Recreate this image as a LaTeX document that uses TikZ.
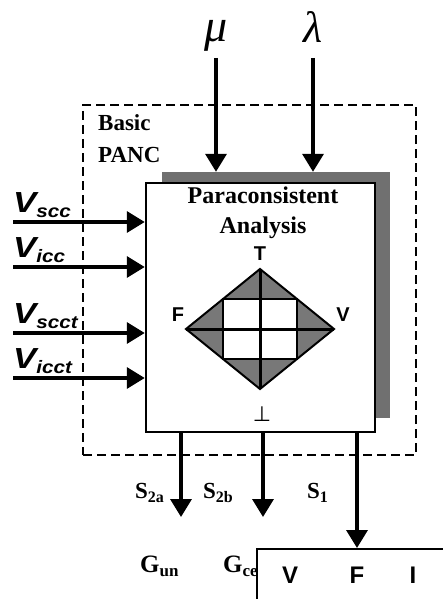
\documentclass[tikz,border=0pt]{standalone}
\usepackage{fontspec}
\setmainfont{Liberation Serif}
\setsansfont{Liberation Sans}
\newfontfamily\dejavu{DejaVu Sans}
\usetikzlibrary{arrows.meta,positioning}
\definecolor{pcshadow}{RGB}{112,112,112}
\definecolor{pcgray}{RGB}{120,120,120}
\newcommand{\pxfont}[1]{\fontsize{#1}{#1}\selectfont}
\newcommand{\vsig}[1]{\sffamily\bfseries\itshape\scalebox{1.2}[1]{\pxfont{29}V}\raisebox{-5pt}{\scalebox{1.15}[1]{\pxfont{18}#1}}}

\begin{document}
\begin{tikzpicture}[x=1pt,y=-1pt,
    sig/.style={line width=3.5pt,-{Triangle[length=18pt,width=21pt]}},
    bold/.style={font=\pxfont{23}\bfseries,inner sep=0pt},
    vert/.style={font=\pxfont{20}\sffamily\bfseries,inner sep=0pt},
    vfi/.style={font=\pxfont{24}\sffamily\bfseries,inner sep=0pt}]
  \useasboundingbox (0,0) rectangle (443,599);
  % basic PANC block
  \node[draw,line width=2.5pt,dash pattern=on 9pt off 5pt,minimum width=333pt,minimum height=350pt,inner sep=0pt] (pancbox) at (249.5,280) {};
  \node[bold,anchor=base west] (basic) at (98,131) {Basic};
  \node[bold,anchor=base west] (panc-lbl) at (98,162) {PANC};
  \node[fill=pcshadow,minimum width=228pt,minimum height=246pt,inner sep=0pt] (shadow) at (276,295) {};
  \node[draw,line width=2.5pt,fill=white,minimum width=229pt,minimum height=249pt,inner sep=0pt] (panc) at (260.5,307.5) {};
  \node[bold,anchor=base,font=\pxfont{24}\bfseries] (title1) at (263,203) {Paraconsistent};
  \node[bold,anchor=base,font=\pxfont{24}\bfseries] (title2) at (263,233) {Analysis};
  % lattice
  \coordinate (lat-t) at (260,269);
  \coordinate (lat-v) at (334,329);
  \coordinate (lat-b) at (260,389);
  \coordinate (lat-f) at (186,329);
  \fill[pcgray] (lat-t) -- (lat-v) -- (lat-b) -- (lat-f) -- cycle;
  \fill[white] (223,299) rectangle (297,359);
  \draw[line width=2pt] (223,299) rectangle (297,359);
  \draw[line width=2pt,line join=miter] (lat-t) -- (lat-v) -- (lat-b) -- (lat-f) -- cycle;
  \draw[line width=3pt] (lat-t) -- (lat-b) (lat-f) -- (lat-v);
  \node[vert] (t-lbl) at (260,254) {T};
  \node[vert] (f-lbl) at (178,315) {F};
  \node[vert] (v-lbl) at (343,315) {V};
  \node[inner sep=0pt,font=\pxfont{21}\dejavu] (b-lbl) at (262,414) {⊥};
  % mu and lambda
  \node[anchor=base,inner sep=0pt,font=\pxfont{46}\itshape] (mu) at (216,42) {μ};
  \node[anchor=base,inner sep=0pt,font=\pxfont{44}\itshape] (lambda) at (313,43) {λ};
  \draw[sig] (mu.south |- 0,58) -- (mu.south |- shadow.north);
  \draw[sig] (lambda.south |- 0,58) -- (lambda.south |- shadow.north);
  % inputs
  \foreach \yy/\sub in {222/scc,267/icc,333/scct,378/icct}{
    \coordinate (in-\sub) at (13,\yy);
    \draw[sig] (in-\sub) -- (in-\sub -| panc.west);
    \node[anchor=south west,inner sep=0pt] (v-\sub) at ([yshift=4pt]in-\sub) {\vsig{\sub}};
  }
  % outputs
  \node[draw,line width=2pt,anchor=north west,minimum width=200pt,minimum height=60pt] (vfibox) at (256,548) {};
  \node[vfi,anchor=base] (vv) at (290,583) {V};
  \node[vfi,anchor=base] (ff) at (357,583) {F};
  \node[vfi,anchor=base] (ii) at (413,583) {I};
  \coordinate (g-un) at (181,517);
  \coordinate (g-ce) at (263,517);
  \draw[sig] (panc.south -| g-un) -- (g-un);
  \draw[sig] (panc.south -| g-ce) -- (g-ce);
  \draw[sig] (panc.south -| vfibox.north) -- (vfibox.north);
  \node[bold,anchor=base west] (s2a) at (135,498) {S\raisebox{-4pt}{\pxfont{16}\bfseries 2a}};
  \node[bold,anchor=base west] (s2b) at (203,498) {S\raisebox{-4pt}{\pxfont{16}\bfseries 2b}};
  \node[bold,anchor=base west] (s1) at (307,498) {S\raisebox{-4pt}{\pxfont{16}\bfseries 1}};
  \node[bold,anchor=base west,font=\pxfont{25}\bfseries] (gun) at (140,572) {G\raisebox{-4pt}{\pxfont{17}\bfseries un}};
  \node[bold,anchor=base west,font=\pxfont{25}\bfseries] (gce) at (223,572) {G\raisebox{-4pt}{\pxfont{17}\bfseries ce}};
\end{tikzpicture}
\end{document}
